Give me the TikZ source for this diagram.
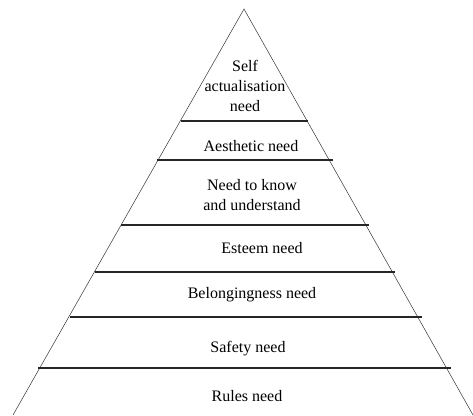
\documentclass[tikz,border=0pt]{standalone}
\usepackage{fontspec}
\setmainfont{Liberation Serif}
\usepackage{tikz}
\newcommand{\tierline}[3]{
  % horizontal line between two levels of the pyramid
  \draw[tier] (#1, #3) -- (#2, #3);
}
\tikzset{
  side/.style={draw=black!80, line width=0.5pt},
  tier/.style={draw=black!85, line width=1.3pt},
  lbl/.style={align=center, font=\fontsize{16}{20}\selectfont, inner sep=0pt}
}

\begin{document}
\begin{tikzpicture}[x=1pt, y=-1pt]
\useasboundingbox (0, 0) rectangle (473, 415);
\coordinate (apex) at (244, 9);
\coordinate (left) at (13, 415);
\coordinate (right) at (473, 415);
\draw[side] (left) -- (apex) -- (right);

\tierline{181}{308}{121};
\tierline{157}{333}{160};
\tierline{121}{369}{225};
\tierline{95}{395}{272};
\tierline{70}{422}{317};
\tierline{38}{451}{368};

\node[lbl] (self) at (245, 86) {Self\\actualisation\\need};
\node[lbl] (aesthetic) at (251, 146) {Aesthetic need};
\node[lbl] (know) at (252, 195) {Need to know\\and understand};
\node[lbl] (esteem) at (262, 248) {Esteem need};
\node[lbl] (belong) at (252, 295) {Belongingness need};
\node[lbl] (safety) at (248, 349) {Safety need};
\node[lbl] (rules) at (247, 396) {Rules need};
\end{tikzpicture}
\end{document}
